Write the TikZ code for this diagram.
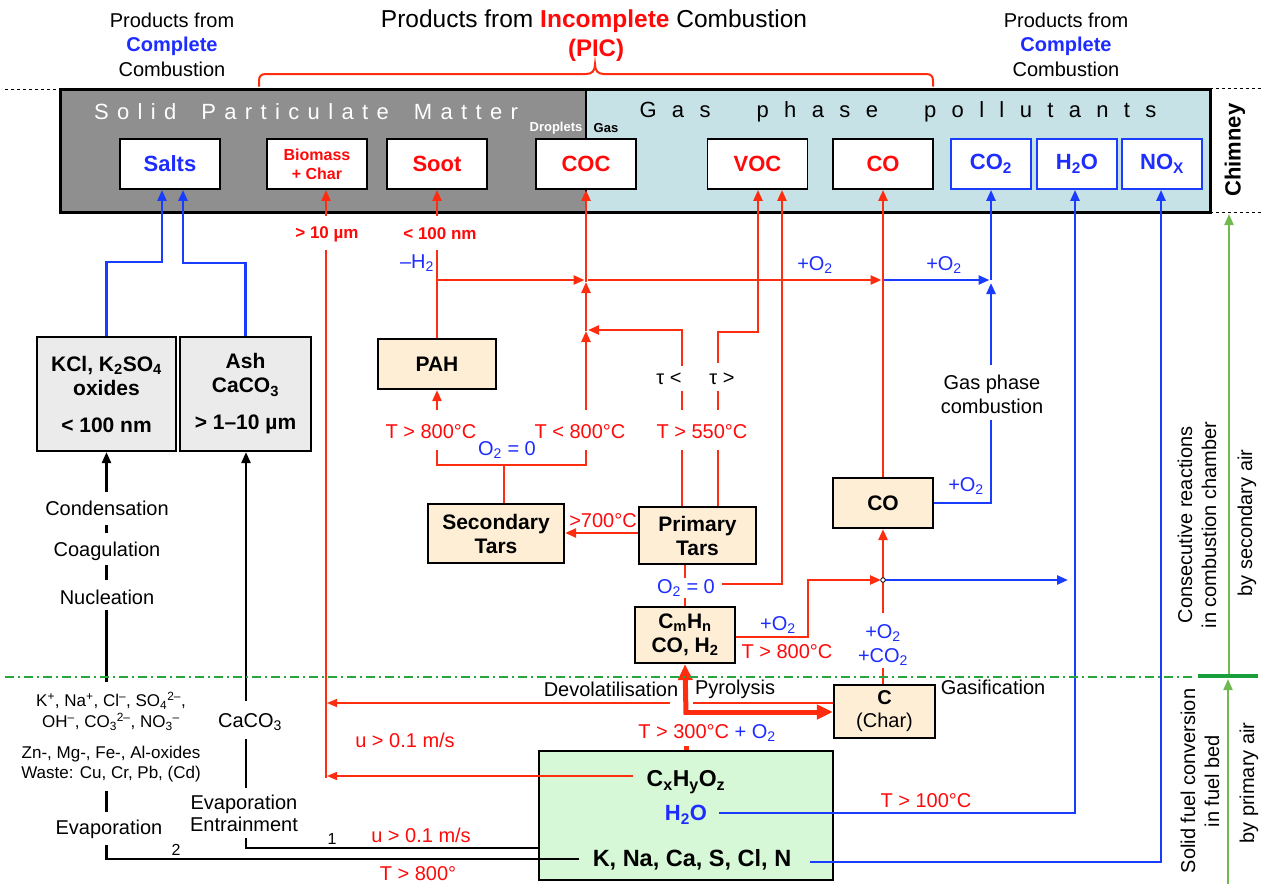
\documentclass[tikz,border=0pt]{standalone}
\usepackage{fontspec}
\setmainfont{Liberation Sans}
\usetikzlibrary{arrows.meta,calc}
\definecolor{lred}{RGB}{255,45,15}
\definecolor{tred}{RGB}{255,10,10}
\definecolor{lblue}{RGB}{25,60,255}
\definecolor{tblue}{RGB}{30,45,255}
\definecolor{smgray}{RGB}{143,143,143}
\definecolor{gasblue}{RGB}{198,226,230}
\definecolor{beige}{RGB}{253,238,213}
\definecolor{lgray}{RGB}{235,235,235}
\definecolor{lgreen}{RGB}{214,248,214}
\definecolor{dgreen}{RGB}{25,160,60}
\definecolor{agreen}{RGB}{112,185,80}
\definecolor{dashgreen}{RGB}{40,165,60}
\newcommand{\solidtxt}{\makebox[424pt][s]{S\hfil o\hfil l\hfil i\hfil d\hfil\hfil\hfil P\hfil a\hfil r\hfil t\hfil i\hfil c\hfil u\hfil l\hfil a\hfil t\hfil e\hfil\hfil\hfil M\hfil a\hfil t\hfil t\hfil e\hfil r}}
\newcommand{\gastxt}{\makebox[517pt][s]{G\hfil a\hfil s\hfil\hfil\hfil p\hfil h\hfil a\hfil s\hfil e\hfil\hfil\hfil p\hfil o\hfil l\hfil l\hfil u\hfil t\hfil a\hfil n\hfil t\hfil s}}
\begin{document}
\begin{tikzpicture}[x=1pt,y=-1pt,
  every node/.style={inner sep=0pt},
  lab/.style={font=\fontsize{20}{24}\selectfont, align=center},
  hdr/.style={font=\fontsize{20}{24.5}\selectfont, align=center},
  pbox/.style={draw=black, line width=1.8pt, fill=white, minimum width=100pt, minimum height=50pt, font=\fontsize{22}{24}\selectfont\bfseries, text=tred, align=center},
  bbox/.style={pbox, draw=lblue, minimum width=80pt, text=tblue},
  lbox/.style={draw=black, line width=2.2pt, fill=beige, align=center, font=\fontsize{21}{24}\selectfont\bfseries},
  tip/.style={-{Triangle[length=11pt,width=9pt]}},
  rl/.style={draw=lred, line width=2.4pt},
  ra/.style={rl, tip},
  rt/.style={draw=lred, line width=1.5pt},
  rta/.style={rt, -{Triangle[length=10pt,width=8pt]}},
  bl/.style={draw=lblue, line width=2.4pt},
  ba/.style={bl, tip},
  kline/.style={draw=black, line width=2.4pt},
  karrow/.style={kline, tip},
  rthick/.style={draw=lred, line width=5pt, -{Triangle[length=16pt,width=14pt]}},
  garrow/.style={draw=agreen, line width=2pt, -{Triangle[length=11pt,width=9pt]}}
]
\fill[white] (0,0) rectangle (1263,892);
\useasboundingbox (0,0) rectangle (1263,892);

% ---------- headers ----------
\node[hdr] (hl) at (172,44.5) {Products from\\{\bfseries\color{tblue}Complete}\\Combustion};
\node[hdr] (hr) at (1066,44.5) {Products from\\{\bfseries\color{tblue}Complete}\\Combustion};
\node[font=\fontsize{24.5}{27}\selectfont] (hm) at (594,21) {Products from {\bfseries\color{tred}Incomplete} Combustion};
\node[font=\fontsize{24}{27}\selectfont\bfseries, text=tred] (pic) at (596,50) {(PIC)};
\draw[lred, line width=2pt, line cap=round] (259,86) -- (259,81) .. controls (259,76) and (261,74) .. (266,74) -- (586,74) .. controls (592,74) and (595,71) .. (595,64) .. controls (595,71) and (598,74) .. (604,74) -- (926,74) .. controls (931,74) and (933,76) .. (933,81) -- (933,86);

% ---------- chimney box ----------
\draw[dashed, line width=0.8pt] (5,89) -- (60,89);
\draw[dashed, line width=0.8pt] (1210,88) -- (1263,88);
\draw[dashed, line width=0.8pt] (1210,212) -- (1263,212);
\fill[smgray] (60,89) rectangle (586,212);
\fill[gasblue] (586,89) rectangle (1210,212);
\draw[line width=3pt] (60,89) rectangle (1210,212);
\draw[line width=2pt] (586,89) -- (586,212);
\node[text=white, font=\fontsize{22}{24}\selectfont] (spm) at (306,112) {\solidtxt};
\node[font=\fontsize{22}{24}\selectfont] (gpp) at (898,112) {\gastxt};
\node[text=white, font=\fontsize{13}{15}\selectfont\bfseries] (drop) at (556,128) {Droplets};
\node[font=\fontsize{13}{15}\selectfont\bfseries] (gasl) at (606,128) {Gas};
\node[rotate=90, font=\fontsize{22}{24}\selectfont\bfseries] (chim) at (1235,150) {Chimney};

\node[pbox, text=tblue] (salts) at (170,164) {Salts};
\node[pbox, font=\fontsize{16}{19}\selectfont\bfseries] (biom) at (317,164) {Biomass\\+ Char};
\node[pbox] (soot) at (437,164) {Soot};
\node[pbox] (coc) at (586,164) {COC};
\node[pbox] (voc) at (757.5,164) {VOC};
\node[pbox] (co) at (883,164) {CO};
\node[bbox] (co2) at (991,164) {CO\textsubscript{2}};
\node[bbox] (h2o) at (1077,164) {H\textsubscript{2}O};
\node[bbox] (nox) at (1162,164) {NO\textsubscript{X}};

% ---------- lower boxes ----------
\node[lbox, fill=lgray, minimum width=139pt, minimum height=114pt] (kcl) at (106.5,394) {KCl, K\textsubscript{2}SO\textsubscript{4}\\oxides\\[13pt]< 100 nm};
\node[lbox, fill=lgray, minimum width=131pt, minimum height=114pt] (ash) at (245.5,394) {Ash\\CaCO\textsubscript{3}\\[13pt]> 1–10 µm};
\node[lbox, minimum width=118pt, minimum height=50pt] (pah) at (437,364) {PAH};
\node[lbox, minimum width=136pt, minimum height=59pt] (sec) at (496,533.5) {Secondary\\Tars};
\node[lbox, minimum width=117pt, minimum height=57pt] (pri) at (697.5,535.5) {Primary\\Tars};
\node[lbox, minimum width=100pt, minimum height=56pt] (cmhn) at (685,635) {C\textsubscript{m}H\textsubscript{n}\\CO, H\textsubscript{2}};
\node[lbox, minimum width=100pt, minimum height=50pt] (cob) at (883,503) {CO};
\node[lbox, minimum width=101pt, minimum height=53pt, font=\fontsize{20}{23}\selectfont] (char) at (884.5,711.5) {\textbf{C}\\(Char)};
\node[draw=black, line width=1.8pt, fill=lgreen, minimum width=294pt, minimum height=129pt] (fuel) at (686,815.5) {};
\node[font=\fontsize{23}{26}\selectfont\bfseries] (cxhy) at (686,782) {C\textsubscript{x}H\textsubscript{y}O\textsubscript{z}};
\node[font=\fontsize{22}{26}\selectfont\bfseries, text=tblue] (fh2o) at (686,815) {H\textsubscript{2}O};
\node[font=\fontsize{23.5}{26}\selectfont\bfseries] (kna) at (692,860) {K, Na, Ca, S, Cl, N};

% ---------- coordinates ----------
\coordinate (s1) at (162,262);
\coordinate (s2) at (183,263);
\coordinate (b1) at (326,216);
\coordinate (b2) at (326,250);
\coordinate (b3) at (326,778);
\coordinate (d2) at (693,703);
\coordinate (d3) at (670,703);
\coordinate (d4) at (327,703);
\coordinate (e1) at (633,776);
\coordinate (e2) at (327,776);
\coordinate (so1) at (437,216);
\coordinate (p1) at (437,250);
\coordinate (h1) at (437,280);
\coordinate (h2) at (584.5,280);
\coordinate (h3) at (588,280);
\coordinate (h4) at (881.5,280);
\coordinate (h5) at (884,280);
\coordinate (h6) at (989.5,280);
\coordinate (c0) at (586,410);
\coordinate (c1) at (586,331);
\coordinate (c2) at (586,282);
\coordinate (st1) at (504,465);
\coordinate (st2) at (437,465);
\coordinate (st3) at (586,465);
\coordinate (st2u) at (437,450);
\coordinate (st3u) at (586,450);
\coordinate (pa1) at (437,410);
\coordinate (t1a) at (682,450);
\coordinate (t1b) at (682,410);
\coordinate (t1c) at (682,391);
\coordinate (t1d) at (682,366);
\coordinate (t1e) at (682,330);
\coordinate (t1f) at (588,330);
\coordinate (t2a) at (718,450);
\coordinate (t2b) at (718,410);
\coordinate (t2c) at (718,391);
\coordinate (t2d) at (718,363);
\coordinate (t2e) at (718,332);
\coordinate (t2f) at (758,332);
\coordinate (y533) at (0,533);
\coordinate (o1) at (685,578);
\coordinate (o2) at (685,598);
\coordinate (o3) at (722,584);
\coordinate (o4) at (782,584);
\coordinate (m1) at (808,637);
\coordinate (m2) at (808,580);
\coordinate (jt) at (881,580);
\coordinate (jn) at (883,580);
\coordinate (jr) at (1068,580);
\coordinate (k1) at (883,668);
\coordinate (k2) at (883,613);
\coordinate (g1) at (991,503);
\coordinate (g2) at (991,420);
\coordinate (g3) at (991,365);
\coordinate (g4) at (991,283);
\coordinate (g5) at (991,280);
\coordinate (w1) at (719,813);
\coordinate (w2) at (1075,813);
\coordinate (n1) at (810,862);
\coordinate (n2) at (1161,862);
\coordinate (th1) at (686,746);
\coordinate (th2) at (686,714.5);
\coordinate (th3) at (683.5,712);
\coordinate (La) at (106.5,682);
\coordinate (Lb) at (106.5,610);
\coordinate (Lc) at (106.5,580);
\coordinate (Ld) at (106.5,565);
\coordinate (Le) at (106.5,533);
\coordinate (Lf) at (106.5,525);
\coordinate (Lg) at (106.5,492);
\coordinate (Lh) at (106.5,791);
\coordinate (Li) at (106.5,812);
\coordinate (Lj) at (106.5,845);
\coordinate (Lk) at (106.5,859);
\coordinate (Ll) at (579,859);
\coordinate (A1) at (246,848);
\coordinate (A2) at (246,838);
\coordinate (A3) at (246,788);
\coordinate (A4) at (246,739);
\coordinate (A5) at (246,701);
\coordinate (gl1) at (5,677);
\coordinate (gl2) at (1195,677);
\coordinate (gb1) at (1198,676);
\coordinate (gb2) at (1258,676);
\coordinate (ga0) at (1228,884);
\coordinate (ga1) at (1228,679);
\coordinate (ga2) at (1229,674);
\coordinate (ga3) at (1229,214);

% ---------- connectors ----------
\draw[ba] (kcl.north) |- (s1) -- (s1 |- salts.south);
\draw[ba] (ash.north) |- (s2) -- (s2 |- salts.south);

\draw[ra] (b1) -- (b1 |- biom.south);
\draw[rt] (b2) -- (b3);
\draw[rt] (char.west |- d2) -- (d2);
\draw[rta] (d3) -- (d4);
\draw[rta] (e1) -- (e2);

\draw[ra] (so1) -- (soot.south);
\draw[rl] (p1) -- (pah.north);
\draw[ra] (h1) -- (h2);
\draw[ra] (h3) -- (h4);
\draw[ba] (h5) -- (h6);

\draw[ra] (c0) -- (c1);
\draw[ra] (c1) -- (c2);
\draw[ra] (c2) -- (coc.south);

\draw[rl] ($(sec.north)+(8,0)$) -- (st1);
\draw[rl] (st2u) -- (st2) -- (st3) -- (st3u);
\draw[ra] (pa1) -- (pah.south);

\draw[rl] (pri.north -| t1a) -- (t1a);
\draw[rl] (t1b) -- (t1c);
\draw[ra] (t1d) -- (t1e) -- (t1f);
\draw[rl] (pri.north -| t2a) -- (t2a);
\draw[rl] (t2b) -- (t2c);
\draw[ra] (t2d) -- (t2e) -- (t2f) -- (t2f |- voc.south);

\draw[ra] (pri.west |- y533) -- (sec.east |- y533);
\draw[rl] (pri.south -| o1) -- (o1);
\draw[rl] (o2) -- (cmhn.north);
\draw[ra] (o3) -- (o4) -- (o4 |- voc.south);

\draw[ra] (cmhn.east |- m1) -- (m1) -- (m2) -- (jt);
\draw[rl] (char.north -| k1) -- (k1);
\draw[ra] (k2) -- (cob.south);
\draw[ra] (cob.north) -- (co.south);

\draw[bl] (cob.east) -- (g1) -- (g2);
\draw[ba] (g3) -- (g4);
\draw[ba] (g5) -- (co2.south);
\draw[ba] (jn) -- (jr);
\draw[black, line width=0.8pt, fill=white] (jn) circle (2.3pt);

\draw[ba] (w1) -- (w2) -- (w2 |- h2o.south);
\draw[ba] (n1) -- (n2) -- (n2 |- nox.south);

\draw[draw=lred, line width=5pt] (fuel.north) -- (th1);
\draw[rthick] (th2) -- (cmhn.south);
\draw[rthick] (th3) -- (char.west |- th3);

\draw[kline] (La) -- (Lb);
\draw[kline] (Lc) -- (Ld);
\draw[kline] (Le) -- (Lf);
\draw[karrow] (Lg) -- (kcl.south);
\draw[kline] (Lh) -- (Li);
\draw[kline] (Lj) -- (Lk) -- (Ll);
\draw[kline] (fuel.west |- A1) -- (A1) -- (A2);
\draw[kline] (A3) -- (A4);
\draw[karrow] (A5) -- (A5 |- ash.south);

\draw[dashgreen, line width=1.3pt, dash pattern=on 9pt off 4pt on 2pt off 4pt] (gl1) -- (gl2);
\draw[dgreen, line width=3.5pt] (gb1) -- (gb2);
\draw[garrow] (ga0) -- (ga1);
\draw[garrow] (ga2) -- (ga3);

% ---------- labels ----------
\node[text=tred, font=\fontsize{17}{20}\selectfont\bfseries] (l10) at (327,234) {> 10 µm};
\node[text=tred, font=\fontsize{17}{20}\selectfont\bfseries] (l100) at (440,234) {< 100 nm};
\node[lab, text=tblue] (lh2) at (417,263) {–H\textsubscript{2}};
\node[lab, text=tblue] (lo2a) at (815,265) {+O\textsubscript{2}};
\node[lab, text=tblue] (lo2b) at (944,265) {+O\textsubscript{2}};
\node[lab, text=tred] (lt800a) at (431,432) {T > 800°C};
\node[lab, text=tred] (lt800b) at (580,432) {T < 800°C};
\node[lab, text=tblue] (lo20a) at (507,450) {O\textsubscript{2} = 0};
\node[lab, text=tred] (lt550) at (702,432) {T > 550°C};
\node[lab] (ltau1) at (669,379) {τ <};
\node[lab] (ltau2) at (722,379) {τ >};
\node[lab, text=tred] (lt700) at (603,521) {>700°C};
\node[lab, text=tblue] (lo20b) at (686,588) {O\textsubscript{2} = 0};
\node[lab, text=tblue] (lo2c) at (778,625) {+O\textsubscript{2}};
\node[lab, text=tred] (lt800c) at (787,652) {T > 800°C};
\node[lab, text=tblue] (lo2d) at (966,486) {+O\textsubscript{2}};
\node[lab] (lgpc) at (992,394) {Gas phase\\combustion};
\node[lab, text=tblue] (lo2co2) at (883,645) {+O\textsubscript{2}\\+CO\textsubscript{2}};
\node[lab] (ldev) at (611,689) {Devolatilisation};
\node[lab] (lpyr) at (735,689) {Pyrolysis};
\node[lab] (lgas) at (993,687) {Gasification};
\node[lab, text=tred] (lt300) at (707,733) {T > 300°C \textcolor{tblue}{+ O\textsubscript{2}}};
\node[lab, text=tred] (lu1) at (405,740) {u > 0.1 m/s};
\node[lab, text=tred] (lu2) at (421,835) {u > 0.1 m/s};
\node[lab, text=tred] (lt100) at (926,801) {T > 100°C};
\node[lab, text=tred] (lt800d) at (418,874) {T > 800°};
\node[font=\fontsize{16}{18}\selectfont] (one) at (332,839) {1};
\node[font=\fontsize{16}{18}\selectfont] (two) at (176,850) {2};
\node[lab] (lcond) at (107,508) {Condensation};
\node[lab] (lcoag) at (107,551) {Coagulation};
\node[lab] (lnucl) at (107,597) {Nucleation};
\node[lab, font=\fontsize{17}{21}\selectfont] (lions) at (111,711.5) {K\textsuperscript{+}, Na\textsuperscript{+}, Cl\textsuperscript{–}, SO\textsubscript{4}\textsuperscript{2–},\\OH\textsuperscript{–}, CO\textsubscript{3}\textsuperscript{2–}, NO\textsubscript{3}\textsuperscript{–}};
\node[lab, font=\fontsize{17}{20}\selectfont] (loxi) at (111,764) {Zn-, Mg-, Fe-, Al-oxides\\Waste: Cu, Cr, Pb, (Cd)};
\node[lab] (levap) at (109,829) {Evaporation};
\node[lab] (lcaco) at (250,722) {CaCO\textsubscript{3}};
\node[lab, font=\fontsize{20}{22}\selectfont] (levent) at (244,813) {Evaporation\\Entrainment};
\node[lab, rotate=90] (lcons) at (1197,525) {Consecutive reactions\\in combustion chamber};
\node[lab, rotate=90] (lsec) at (1247,523) {by secondary air};
\node[lab, rotate=90] (lsol) at (1200,781) {Solid fuel conversion\\in fuel bed};
\node[lab, rotate=90] (lpri) at (1249,783) {by primary air};
\end{tikzpicture}
\end{document}
